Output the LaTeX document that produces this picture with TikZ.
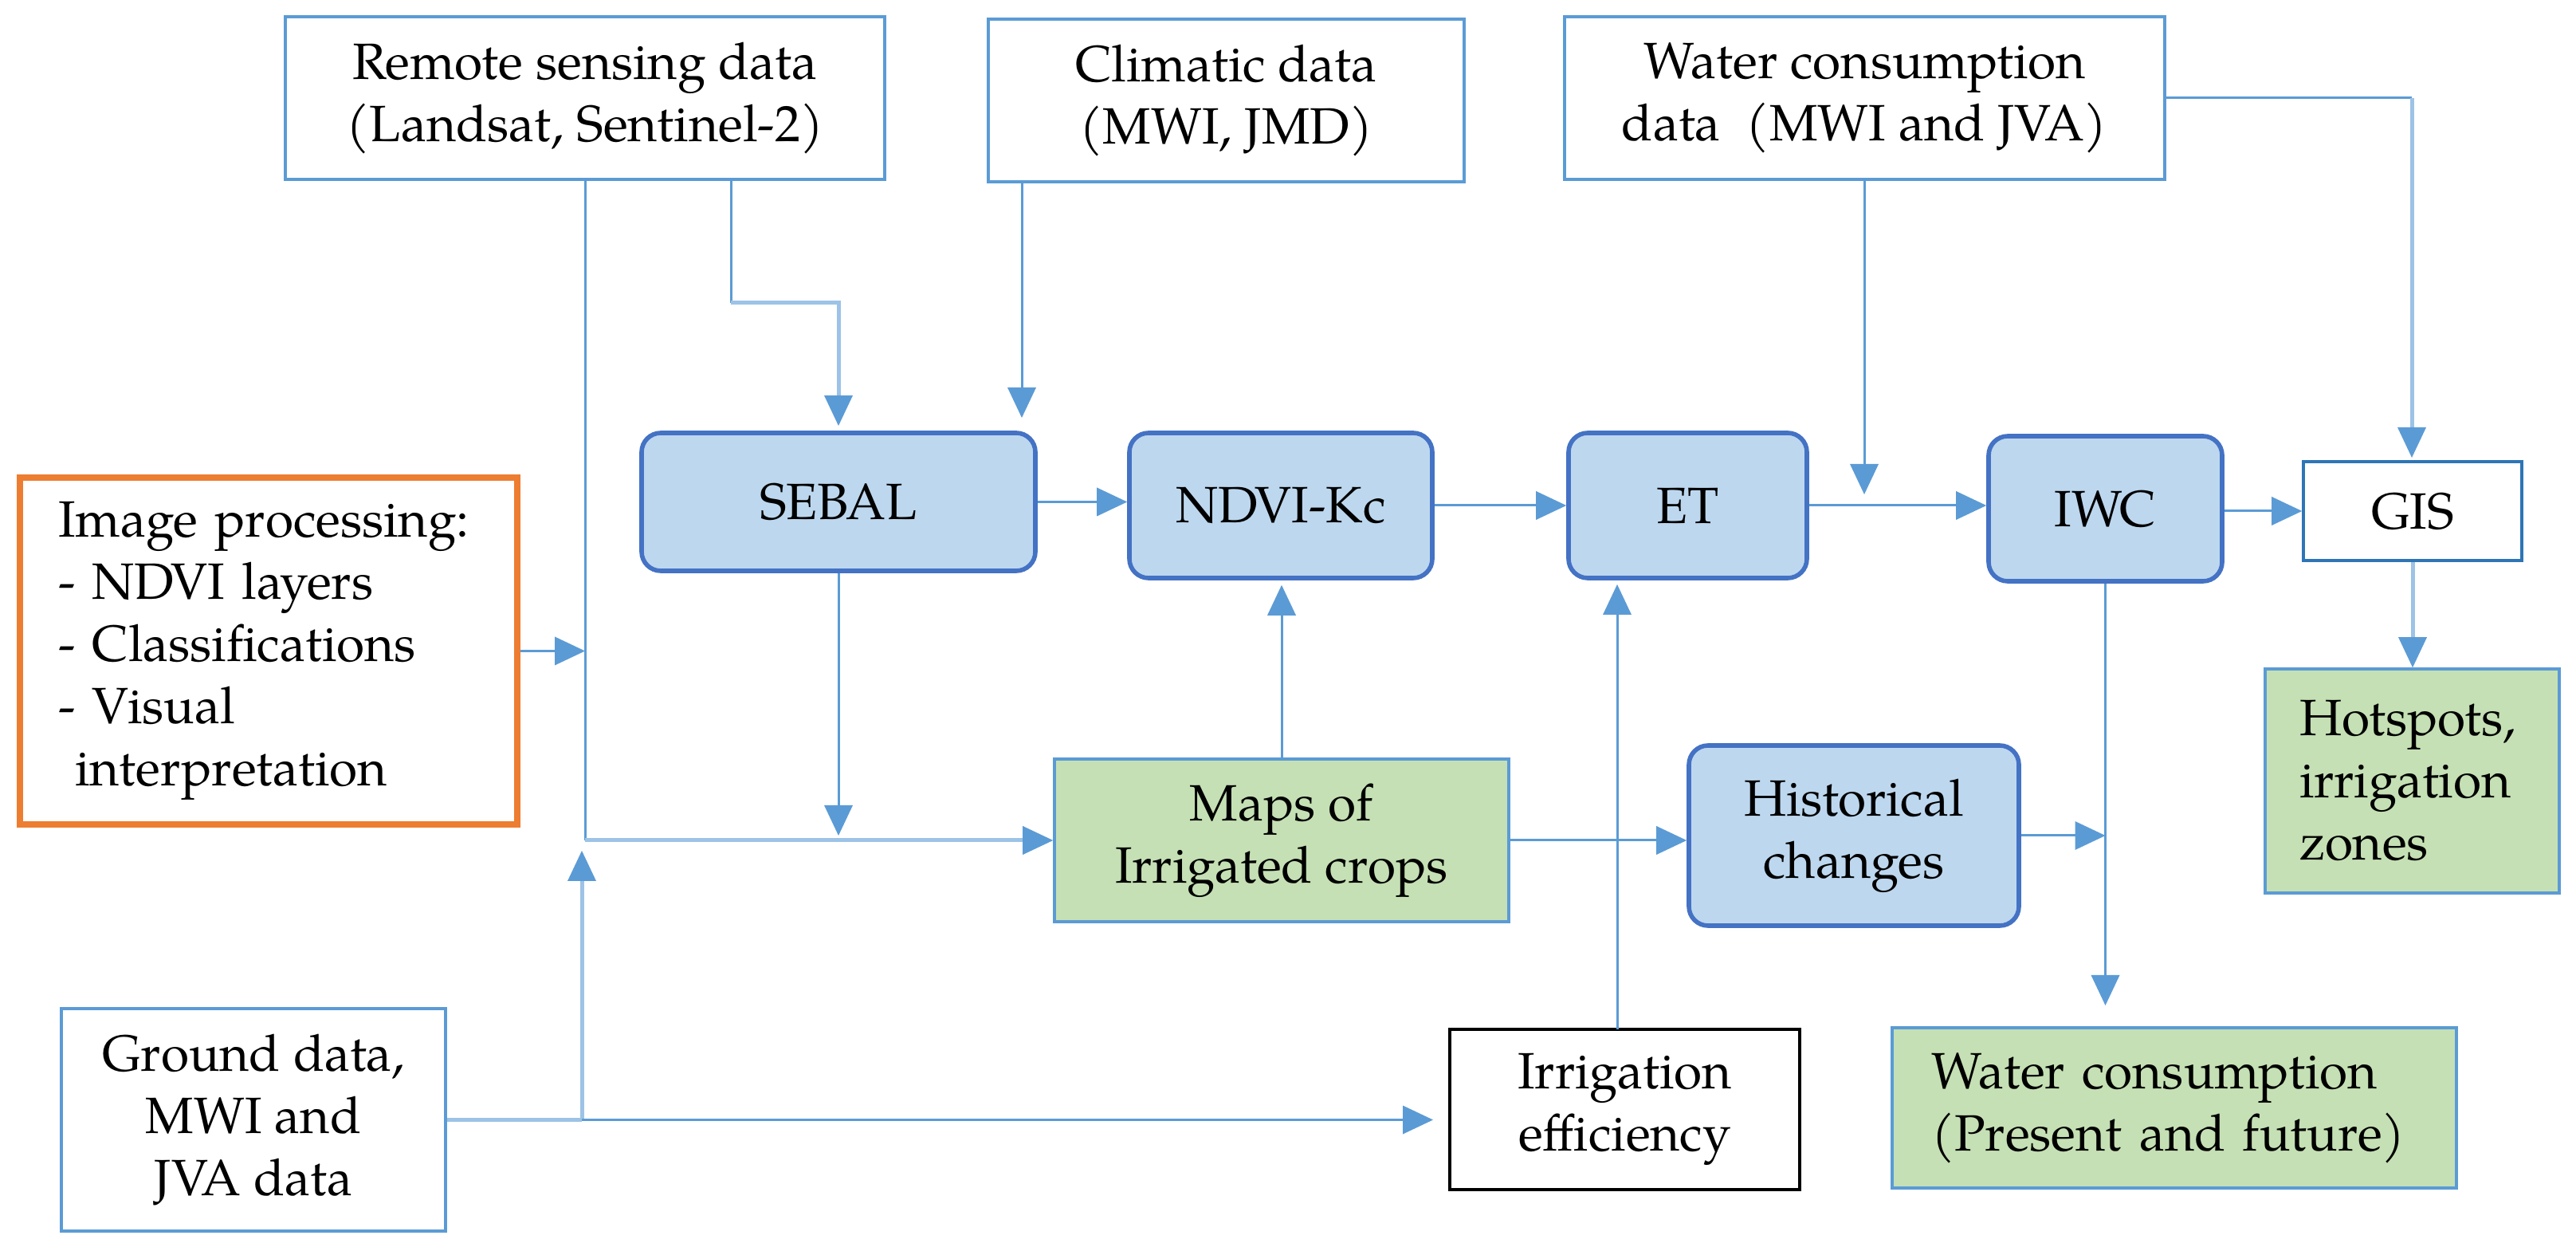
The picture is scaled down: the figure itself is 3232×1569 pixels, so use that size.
\documentclass[tikz,border=0pt]{standalone}
\usepackage{fontspec}
\setmainfont{TeX Gyre Pagella}
\usetikzlibrary{arrows.meta}
\definecolor{lb}{HTML}{5B9BD5}
\definecolor{llb}{HTML}{9DC3E6}
\definecolor{rbfill}{HTML}{BDD7EE}
\definecolor{rbdraw}{HTML}{4472C4}
\definecolor{gfill}{HTML}{C5E0B4}
\definecolor{ored}{HTML}{ED7D31}
\definecolor{gisdraw}{HTML}{2E75B6}
\tikzset{
  base/.style={inner sep=0pt, align=center, font=\fontsize{16}{19.5}\selectfont},
  inbox/.style={base, draw=lb, line width=0.9pt, fill=white},
  rbox/.style={base, draw=rbdraw, line width=1.4pt, fill=rbfill, rounded corners=6pt},
  gbox/.style={base, draw=lb, line width=0.9pt, fill=gfill},
  obox/.style={base, draw=ored, line width=2.1pt, align=left},
  ln/.style={draw=lb, line width=0.75pt},
  lln/.style={draw=llb, line width=1.25pt},
  arr/.style={-{Triangle[length=9.5pt,width=9pt,color=lb,line width=0pt]}},
}
\begin{document}
\begin{tikzpicture}[x=0.25pt,y=-0.25pt]
\useasboundingbox (0,0) rectangle (3232,1569);
% top input boxes
\node[inbox, minimum width=188pt, minimum height=51pt] (remote) at (734,123) {Remote sensing data\\(Landsat, Sentinel-2)};
\node[inbox, minimum width=149.25pt, minimum height=51pt] (climatic) at (1538.5,126) {Climatic data\\(MWI, JMD)};
\node[inbox, minimum width=188.25pt, minimum height=51pt] (water) at (2339.5,123) {Water consumption\\data\ \ (MWI and JVA)};
% image processing
\node[obox, minimum width=156pt, minimum height=108.75pt, text width=132pt] (imgproc) at (337,816.5) {Image processing:\\- NDVI layers\\- Classifications\\- Visual\\\hspace*{0.33em}interpretation};
% process boxes
\node[rbox, minimum width=123.5pt, minimum height=43.25pt] (sebal) at (1052,629.5) {SEBAL};
\node[rbox, minimum width=95pt, minimum height=45.5pt] (ndvi) at (1607,634) {NDVI-Kc};
\node[rbox, minimum width=74.75pt, minimum height=45.5pt] (et) at (2117.5,634) {ET};
\node[rbox, minimum width=73.25pt, minimum height=45.5pt] (iwc) at (2641.5,638) {IWC};
\node[base, draw=gisdraw, line width=0.9pt, minimum width=68.5pt, minimum height=31pt] (gis) at (3027,641) {GIS};
\node[gbox, minimum width=92.25pt, minimum height=70.25pt, text width=70.75pt, align=left] (hot) at (3026.5,979.5) {Hotspots,\\irrigation\\zones};
\node[gbox, minimum width=142.5pt, minimum height=51pt] (maps) at (1608,1054) {Maps of\\Irrigated crops};
\node[rbox, minimum width=103.5pt, minimum height=56.5pt] (hist) at (2326,1048) {Historical\\changes};
\node[base, draw=black, line width=0.9pt, minimum width=109.75pt, minimum height=50.25pt] (irreff) at (2038.5,1391.5) {Irrigation\\efficiency};
\node[gbox, minimum width=177pt, minimum height=50.25pt, text width=152.5pt, align=left] (wcons) at (2728,1389.5) {Water consumption\\(Present and future)};
\node[inbox, minimum width=120.5pt, minimum height=69.75pt] (ground) at (318,1404.5) {Ground data,\\MWI and\\JVA data};
% coordinates
\coordinate (a1) at (734,1054);
\coordinate (b0) at (917,225);
\coordinate (b1) at (917,380);
\coordinate (b2) at (1052,380);
\coordinate (b3) at (1052,534);
\coordinate (c0) at (1282,228);
\coordinate (c1) at (1282,524);
\coordinate (w0) at (2339,225);
\coordinate (w1) at (2339,620);
\coordinate (w2) at (3026,123);
\coordinate (w3) at (3026,574);
\coordinate (d1) at (734,816.5);
\coordinate (e1) at (1052,1048);
\coordinate (g1) at (730,1404.5);
\coordinate (g2) at (730,1067);
\coordinate (g3) at (1798,1404.5);
\coordinate (i0) at (2029,1291);
\coordinate (i1) at (2029,733);
\coordinate (h1) at (2641.5,1048);
\coordinate (k1) at (2641.5,1261);
% connectors
\draw[ln] (remote.south) -- (a1);
\draw[lln, arr] (a1) -- (maps.west);
\draw[ln] (b0) -- (b1);
\draw[lln, arr] (b1) -- (b2) -- (b3);
\draw[ln, arr] (c0) -- (c1);
\draw[ln, arr] (w0) -- (w1);
\draw[ln] (water.east) -- (w2);
\draw[lln, arr] (w2) -- (w3);
\draw[ln, arr] (imgproc.east) -- (d1);
\draw[ln, arr] (sebal.south) -- (e1);
\draw[lln] (ground.east) -- (g1);
\draw[lln, arr] (g1) -- (g2);
\draw[ln, arr] (g1) -- (g3);
\draw[ln, arr] (sebal.east) -- (sebal.east -| ndvi.west);
\draw[ln, arr] (ndvi.east) -- (et.west);
\draw[ln, arr] (et.east) -- (et.east -| iwc.west);
\draw[ln, arr] (gis.west -| iwc.east) -- (gis.west);
\draw[lln, arr] (gis.south) -- (gis.south |- hot.north);
\draw[ln, arr, shorten >=1.5pt] (maps.north) -- (maps.north |- ndvi.south);
\draw[ln, arr] (maps.east) -- (maps.east -| hist.west);
\draw[ln, arr] (i0) -- (i1);
\draw[ln, arr] (hist.east) -- (h1);
\draw[ln, arr] (iwc.south) -- (k1);
\end{tikzpicture}
\end{document}
